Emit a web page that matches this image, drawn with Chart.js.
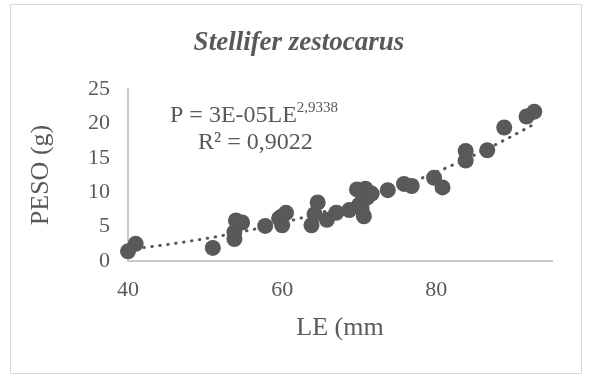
<!DOCTYPE html>
<html>
<head>
<meta charset="utf-8">
<script src="https://cdn.jsdelivr.net/npm/chart.js@4"></script>
<style>
  body { margin: 0; background: #fff; }
  #wrap { width: 590px; height: 377px; }
</style>
</head>
<body>
<div id="wrap"><canvas id="pesoChart"></canvas></div>
<script>
// LE (mm) and PESO (g)
const lengths = [40, 41, 51, 53.8, 53.8, 54, 54.8, 57.8, 59.6, 60, 60, 60.5,
                 63.8, 64.2, 64.6, 65.8, 67, 68.7, 69.7, 70, 70.3, 70.6, 70.8,
                 71, 71.2, 71.6, 73.7, 75.8, 76.8, 79.7, 80.8, 83.8, 83.8,
                 86.6, 88.8, 91.7, 92.7];
const weights = [1.4, 2.5, 1.9, 3.2, 4.2, 5.9, 5.6, 5.1, 6.2, 5.2, 6.5, 7.0,
                 5.2, 6.8, 8.5, 6.0, 7.0, 7.4, 10.4, 8.2, 7.6, 6.5, 10.5,
                 9.2, 10.0, 9.8, 10.3, 11.2, 10.9, 12.1, 10.7, 16.0, 14.6,
                 16.1, 19.4, 21.0, 21.7];
const xTicks = [40, 60, 80];
const yTicks = [0, 5, 10, 15, 20, 25];

const chartTitle = 'Stellifer zestocarus';
const xTitle = 'LE (mm';
const yTitle = 'PESO (g)';
const eqMain = 'P = 3E-05LE';
const eqExp = '2,9338';
const eqR2 = 'R² = 0,9022';

const grey = '#595959';
const serif = '"Liberation Serif", "Times New Roman", serif';

// power trendline (least squares on logs, like Excel)
const lx = lengths.map(Math.log);
const ly = weights.map(Math.log);
const mx = lx.reduce((s, v) => s + v, 0) / lx.length;
const my = ly.reduce((s, v) => s + v, 0) / ly.length;
let sxy = 0, sxx = 0;
lx.forEach((v, i) => { sxy += (v - mx) * (ly[i] - my); sxx += (v - mx) * (v - mx); });
const b = sxy / sxx;
const a = Math.exp(my - b * mx);
const xMin = Math.min(...lengths), xMax = Math.max(...lengths);
const trend = [];
for (let i = 0; i <= 80; i++) {
    const x = xMin + (xMax - xMin) * i / 80;
    trend.push({ x: x, y: a * Math.pow(x, b) });
}

const frame = {
    id: 'frame',
    beforeDraw(chart) {
        const c = chart.ctx;
        c.save();
        c.fillStyle = '#fff';
        c.fillRect(0, 0, chart.width, chart.height);
        c.strokeStyle = '#d9d9d9';
        c.lineWidth = 1;
        c.strokeRect(10.5, 4.5, 571, 369);
        c.restore();
    },
    afterDraw(chart) {
        const c = chart.ctx;
        const area = chart.chartArea;
        c.save();
        c.fillStyle = grey;
        c.textBaseline = 'alphabetic';
        c.textAlign = 'center';
        c.font = 'italic bold 27px ' + serif;
        c.fillText(chartTitle, 299, 50);
        c.textAlign = 'left';
        c.font = '24px ' + serif;
        const ex = area.left + 42, ey = area.top + 33;
        c.fillText(eqMain, ex, ey);
        const w = c.measureText(eqMain).width;
        c.font = '15px ' + serif;
        c.fillText(eqExp, ex + w, ey - 10);
        c.font = '24px ' + serif;
        c.fillText(eqR2, ex + 28, ey + 27);
        c.restore();
    }
};

const ctx = document.getElementById('pesoChart').getContext('2d');
new Chart(ctx, {
    type: 'scatter',
    data: {
        datasets: [{
            data: lengths.map((x, i) => ({ x: x, y: weights[i] })),
            backgroundColor: grey,
            borderWidth: 0,
            pointRadius: 8,
            pointHoverRadius: 8,
            clip: false
        }, {
            type: 'line',
            data: trend,
            borderColor: grey,
            borderWidth: 3,
            borderDash: [0.5, 7.5],
            borderCapStyle: 'round',
            pointRadius: 0,
            fill: false,
            tension: 0
        }]
    },
    options: {
        responsive: true,
        maintainAspectRatio: false,
        animation: false,
        layout: { padding: { left: 22, right: 38, top: 89, bottom: 29 } },
        plugins: { legend: { display: false }, tooltip: { enabled: false } },
        scales: {
            x: {
                type: 'linear',
                min: 40,
                max: 95,
                afterBuildTicks: s => { s.ticks = xTicks.map(v => ({ value: v })); },
                afterFit: s => { s.height = 87; },
                grid: { drawOnChartArea: false, drawTicks: false },
                border: { color: '#c8c8c8', width: 2 },
                ticks: { color: grey, padding: 16, font: { family: serif, size: 22 } },
                title: { display: true, text: xTitle, color: grey, font: { family: serif, size: 26 } }
            },
            y: {
                min: 0,
                max: 25,
                afterBuildTicks: s => { s.ticks = yTicks.map(v => ({ value: v })); },
                afterFit: s => { s.width = 106; },
                grid: { drawOnChartArea: false, drawTicks: false },
                border: { color: '#c8c8c8', width: 2 },
                ticks: { color: grey, padding: 18, font: { family: serif, size: 22 } },
                title: { display: true, text: yTitle, color: grey, font: { family: serif, size: 26 } }
            }
        }
    },
    plugins: [frame]
});
</script>
</body>
</html>
